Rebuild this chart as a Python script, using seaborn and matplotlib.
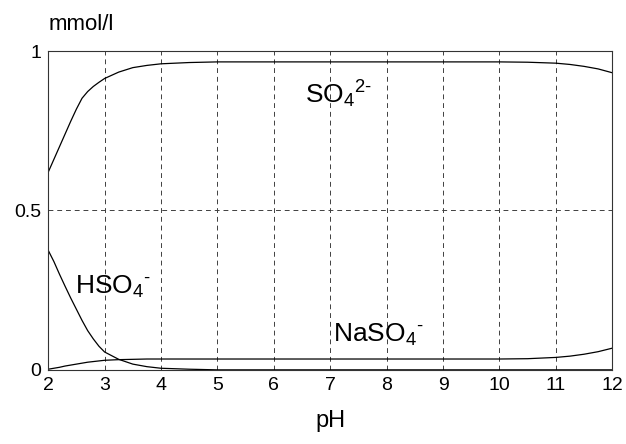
#!/usr/bin/env python3

import matplotlib
matplotlib.use("Agg")
import matplotlib.pyplot as plt
import pandas as pd
import seaborn as sns

# values
ph = [2, 2.1, 2.2, 2.3, 2.4, 2.5, 2.6, 2.7, 2.8, 2.9, 3, 3.25, 3.5, 3.75,
      4, 4.5, 5, 6, 7, 8, 9, 10, 10.5, 11, 11.25, 11.5, 11.75, 12]
so4 = [0.620, 0.660, 0.700, 0.740, 0.780, 0.818, 0.852, 0.873, 0.889, 0.902,
       0.914, 0.934, 0.948, 0.955, 0.960, 0.964, 0.966, 0.966, 0.966, 0.966,
       0.966, 0.966, 0.965, 0.962, 0.958, 0.952, 0.944, 0.932]
hso4 = [0.375, 0.340, 0.300, 0.262, 0.225, 0.190, 0.155, 0.123, 0.097, 0.074,
        0.056, 0.033, 0.018, 0.010, 0.005, 0.002, 0.0, 0.0, 0.0, 0.0, 0.0,
        0.0, 0.0, 0.0, 0.0, 0.0, 0.0, 0.0]
naso4 = [0.002, 0.005, 0.008, 0.012, 0.015, 0.018, 0.021, 0.024, 0.026, 0.028,
         0.030, 0.032, 0.033, 0.034, 0.034, 0.034, 0.034, 0.034, 0.034, 0.034,
         0.034, 0.034, 0.035, 0.039, 0.043, 0.049, 0.057, 0.068]
species = ["SO4", "HSO4", "NaSO4"]
x_ticks = [2, 3, 4, 5, 6, 7, 8, 9, 10, 11, 12]
y_ticks = [0, 0.5, 1]
y_tick_labels = ["0", "0.5", "1"]

sns.set_style("white")
plt.rcParams["font.family"] = ["Liberation Sans", "DejaVu Sans"]
plt.rcParams["mathtext.fontset"] = "custom"
plt.rcParams["mathtext.rm"] = "Liberation Sans"
plt.rcParams["mathtext.it"] = "Liberation Sans"
plt.rcParams["text.color"] = "black"
plt.rcParams["xtick.color"] = "black"
plt.rcParams["ytick.color"] = "black"
plt.rcParams["axes.labelcolor"] = "black"

df = pd.DataFrame({"pH": ph, "SO4": so4, "HSO4": hso4, "NaSO4": naso4})
df_long = df.melt(id_vars=["pH"], value_vars=species, var_name="species")

fig, ax = plt.subplots(figsize=(6.26, 4.44), dpi=100)
fig.subplots_adjust(left=0.077, right=0.978, top=0.885, bottom=0.167)

sns.lineplot(
    data=df_long,
    x="pH",
    y="value",
    hue="species",
    palette=["black"] * 3,
    linewidth=0.9,
    legend=False,
    ax=ax,
)

ax.set_xlim(2, 12)
ax.set_ylim(0, 1)
ax.set_xticks(x_ticks)
ax.set_yticks(y_ticks)
ax.set_yticklabels(y_tick_labels)
ax.tick_params(labelsize=14, direction="in", length=3, pad=5)
ax.grid(True, color="0.25", linestyle=(0, (5, 4)), linewidth=0.7)
for s in ax.spines.values():
    s.set_color("0.2")
    s.set_linewidth(0.8)

ax.set_xlabel("pH", fontsize=17, labelpad=12)
ax.set_ylabel("")
fig.text(0.078, 1 - 24 / 444, "mmol/l", fontsize=16, va="center", ha="left")

ax.text(6.55, 0.865, r"SO$_4{}^{2\text{-}}$", fontsize=19, va="center")
ax.text(2.48, 0.26, r"HSO$_4{}^{\text{-}}$", fontsize=19, va="center")
ax.text(7.05, 0.11, r"NaSO$_4{}^{\text{-}}$", fontsize=19, va="center")

plt.savefig("out.png", dpi=100)
